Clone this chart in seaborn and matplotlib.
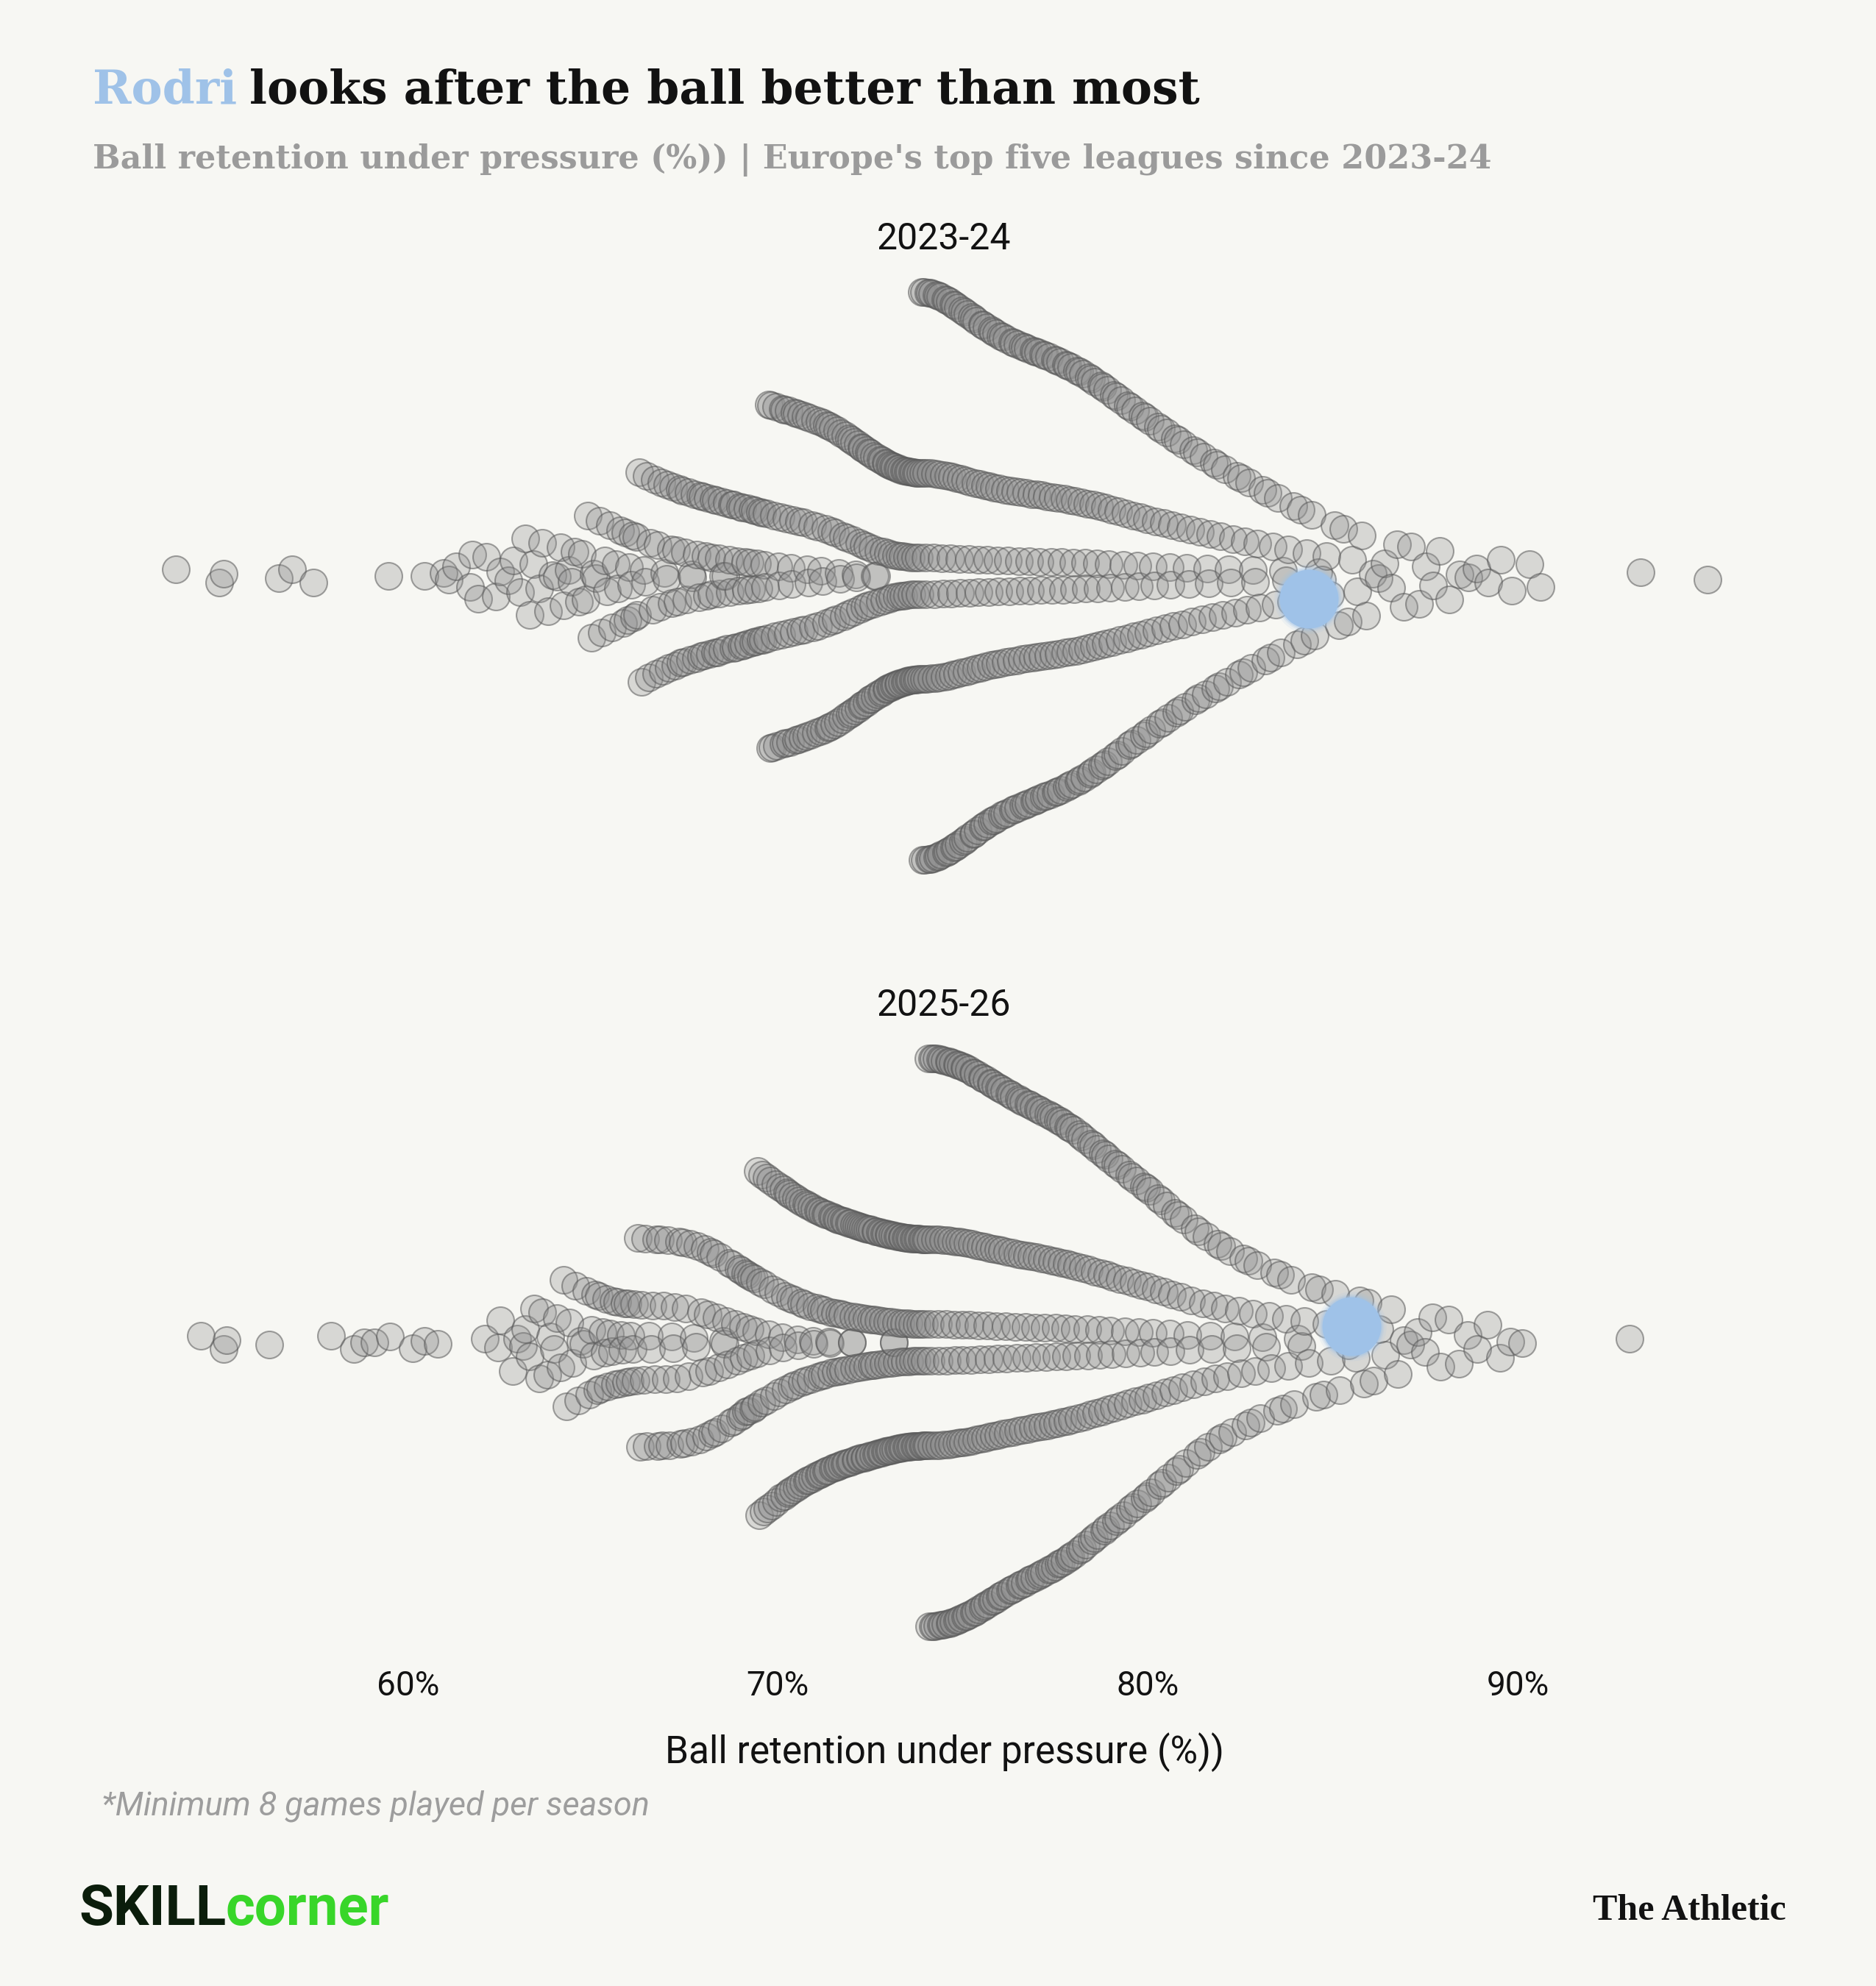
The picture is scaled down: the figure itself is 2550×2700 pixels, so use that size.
import numpy as np
import pandas as pd
import matplotlib.pyplot as plt
from matplotlib.colors import to_rgba
import seaborn as sns

# Ball retention under pressure (%), one value per player
seasons = ["2023-24", "2025-26"]
rodri_retention = [84.35, 85.51]

retention_2324 = [
    53.73, 54.90, 55.02, 56.51, 56.87, 57.44, 59.47, 60.45, 60.97, 61.11, 61.31, 61.68, 61.74, 61.90,
    62.12, 62.38, 62.50, 62.71, 62.85,
    63.04, 63.17, 63.29, 63.40, 63.55, 63.64, 63.79, 63.92,
    64.03, 64.13, 64.20, 64.34, 64.42, 64.51, 64.62, 64.70, 64.81, 64.87, 64.96,
    65.02, 65.09, 65.18, 65.24, 65.33, 65.39, 65.47, 65.53, 65.62, 65.69, 65.75, 65.83, 65.88, 65.93, 65.98,
    66.03, 66.07, 66.12, 66.17, 66.20, 66.26, 66.32, 66.37, 66.41, 66.46, 66.52, 66.56, 66.61, 66.67, 66.72,
    66.76, 66.81, 66.85, 66.90, 66.94, 66.99,
    67.02, 67.06, 67.11, 67.13, 67.18, 67.23, 67.25, 67.30, 67.35, 67.38, 67.41, 67.46, 67.50, 67.53, 67.58,
    67.62, 67.66, 67.69, 67.74, 67.78, 67.81, 67.86, 67.90, 67.93, 67.97,
    68.01, 68.04, 68.09, 68.11, 68.16, 68.20, 68.21, 68.27, 68.30, 68.32, 68.37, 68.41, 68.42, 68.48, 68.51,
    68.53, 68.58, 68.62, 68.63, 68.69, 68.71, 68.76, 68.80, 68.81, 68.87, 68.91, 68.94, 68.98,
    69.02, 69.05, 69.08, 69.12, 69.14, 69.18, 69.21, 69.25, 69.28, 69.31, 69.34, 69.38, 69.40, 69.44, 69.47,
    69.51, 69.53, 69.57, 69.60, 69.63, 69.66, 69.70, 69.72, 69.76, 69.79, 69.82, 69.85, 69.89, 69.91, 69.95,
    69.98,
    70.01, 70.04, 70.07, 70.09, 70.13, 70.15, 70.18, 70.21, 70.24, 70.27, 70.29, 70.33, 70.35, 70.38, 70.41,
    70.44, 70.46, 70.50, 70.52, 70.55, 70.58, 70.61, 70.63, 70.67, 70.69, 70.72, 70.75, 70.78, 70.80, 70.84,
    70.86, 70.89, 70.93, 70.96,
    71.01, 71.03, 71.06, 71.09, 71.12, 71.14, 71.17, 71.20, 71.22, 71.25, 71.28, 71.30, 71.33, 71.36, 71.38,
    71.41, 71.44, 71.47, 71.49, 71.52, 71.55, 71.57, 71.60, 71.63, 71.65, 71.68, 71.71, 71.74, 71.76, 71.79,
    71.82, 71.84, 71.87, 71.90, 71.92, 71.95, 71.98,
    72.01, 72.02, 72.04, 72.06, 72.08, 72.10, 72.13, 72.16, 72.18, 72.20, 72.23, 72.26, 72.27, 72.29, 72.31,
    72.33, 72.35, 72.38, 72.41, 72.43, 72.45, 72.47, 72.48, 72.51, 72.52, 72.56, 72.58, 72.60, 72.62, 72.63,
    72.66, 72.68, 72.70, 72.73, 72.76, 72.77, 72.79, 72.81, 72.83, 72.85, 72.88, 72.91, 72.93, 72.94, 72.95,
    72.98,
    73.01, 73.02, 73.03, 73.05, 73.07, 73.08, 73.10, 73.12, 73.14, 73.16, 73.18, 73.19, 73.21, 73.23, 73.25,
    73.27, 73.28, 73.30, 73.32, 73.34, 73.36, 73.38, 73.40, 73.41, 73.43, 73.45, 73.47, 73.49, 73.50, 73.52,
    73.54, 73.56, 73.58, 73.60, 73.61, 73.63, 73.65, 73.67, 73.69, 73.71, 73.72, 73.74, 73.76, 73.78, 73.80,
    73.82, 73.84, 73.85, 73.87, 73.89, 73.91, 73.93, 73.95, 73.96, 73.98, 73.99,
    74.00, 74.02, 74.04, 74.07, 74.09, 74.11, 74.13, 74.14, 74.16, 74.18, 74.20, 74.22, 74.24, 74.25, 74.27,
    74.29, 74.31, 74.33, 74.35, 74.36, 74.38, 74.40, 74.42, 74.44, 74.47, 74.49, 74.51, 74.53, 74.55, 74.56,
    74.58, 74.60, 74.62, 74.64, 74.65, 74.67, 74.69, 74.71, 74.73, 74.75, 74.76, 74.78, 74.80, 74.82, 74.84,
    74.87, 74.89, 74.91, 74.93, 74.95, 74.96, 74.98,
    75.00, 75.04, 75.06, 75.07, 75.10, 75.12, 75.13, 75.16, 75.18, 75.19, 75.22, 75.24, 75.28, 75.30, 75.31,
    75.34, 75.36, 75.37, 75.40, 75.42, 75.43, 75.46, 75.48, 75.52, 75.54, 75.55, 75.58, 75.60, 75.61, 75.64,
    75.66, 75.67, 75.70, 75.72, 75.76, 75.78, 75.79, 75.82, 75.84, 75.85, 75.88, 75.90, 75.91, 75.94, 75.96,
    75.99,
    76.00, 76.03, 76.07, 76.09, 76.12, 76.14, 76.16, 76.18, 76.20, 76.23, 76.25, 76.27, 76.29, 76.34, 76.36,
    76.38, 76.40, 76.42, 76.45, 76.47, 76.49, 76.51, 76.53, 76.56, 76.60, 76.62, 76.64, 76.67, 76.69, 76.71,
    76.73, 76.75, 76.78, 76.80, 76.82, 76.86, 76.89, 76.91, 76.93, 76.95, 76.97, 76.99,
    77.01, 77.03, 77.06, 77.08, 77.11, 77.13, 77.15, 77.18, 77.20, 77.22, 77.25, 77.27, 77.32, 77.34, 77.37,
    77.39, 77.41, 77.44, 77.46, 77.49, 77.51, 77.53, 77.56, 77.58, 77.60, 77.63, 77.65, 77.68, 77.72, 77.75,
    77.77, 77.79, 77.82, 77.84, 77.87, 77.89, 77.91, 77.94, 77.96, 77.98,
    78.01, 78.03, 78.06, 78.09, 78.12, 78.14, 78.17, 78.20, 78.22, 78.25, 78.28, 78.30, 78.33, 78.36, 78.38,
    78.41, 78.44, 78.47, 78.49, 78.52, 78.55, 78.57, 78.60, 78.63, 78.65, 78.68, 78.71, 78.74, 78.76, 78.79,
    78.82, 78.84, 78.87, 78.90, 78.92, 78.95, 78.98,
    79.02, 79.05, 79.08, 79.12, 79.14, 79.18, 79.21, 79.25, 79.28, 79.31, 79.34, 79.38, 79.40, 79.44, 79.47,
    79.51, 79.53, 79.57, 79.60, 79.63, 79.66, 79.70, 79.72, 79.76, 79.79, 79.82, 79.85, 79.89, 79.91, 79.95,
    79.98,
    80.02, 80.05, 80.09, 80.13, 80.17, 80.21, 80.24, 80.28, 80.32, 80.36, 80.40, 80.43, 80.47, 80.51, 80.55,
    80.59, 80.62, 80.66, 80.70, 80.74, 80.78, 80.81, 80.85, 80.89, 80.93, 80.97,
    81.02, 81.06, 81.11, 81.15, 81.20, 81.24, 81.29, 81.33, 81.38, 81.42, 81.47, 81.51, 81.56, 81.60, 81.65,
    81.69, 81.74, 81.78, 81.83, 81.87, 81.92, 81.96,
    82.03, 82.08, 82.14, 82.19, 82.25, 82.30, 82.36, 82.41, 82.47, 82.52, 82.58, 82.63, 82.69, 82.74, 82.80,
    82.85, 82.91, 82.96,
    83.03, 83.10, 83.17, 83.24, 83.31, 83.38, 83.45, 83.52, 83.59, 83.66, 83.73, 83.80, 83.87, 83.94,
    84.04, 84.14, 84.23, 84.30, 84.44, 84.52, 84.61, 84.72, 84.83, 84.92,
    85.05, 85.17, 85.29, 85.41, 85.53, 85.66, 85.79, 85.90,
    86.08, 86.24, 86.41, 86.58, 86.74, 86.91,
    87.12, 87.33, 87.52, 87.71, 87.90,
    88.15, 88.42, 88.66, 88.88,
    89.20, 89.55, 89.84,
    90.31, 90.62, 93.32, 95.14,
]

retention_2526 = [
    54.41, 55.02, 55.10, 56.25, 57.92, 58.54, 58.82, 59.10, 59.52, 60.13, 60.45, 60.81,
    62.09, 62.43, 62.50, 62.84, 62.95,
    63.12, 63.18, 63.30, 63.42, 63.55, 63.63, 63.77, 63.86, 63.95,
    64.04, 64.12, 64.21, 64.28, 64.36, 64.45, 64.52, 64.60, 64.67, 64.75, 64.83, 64.90, 64.97,
    65.03, 65.07, 65.12, 65.17, 65.20, 65.26, 65.32, 65.37, 65.41, 65.46, 65.52, 65.56, 65.61, 65.67, 65.72,
    65.76, 65.81, 65.85, 65.90, 65.94, 65.99,
    66.02, 66.08, 66.12, 66.16, 66.22, 66.27, 66.31, 66.37, 66.42, 66.46, 66.52, 66.57, 66.61, 66.67, 66.72,
    66.76, 66.82, 66.87, 66.91, 66.97,
    67.03, 67.07, 67.13, 67.18, 67.22, 67.28, 67.33, 67.37, 67.43, 67.48, 67.52, 67.58, 67.63, 67.67, 67.73,
    67.78, 67.82, 67.88, 67.93, 67.97,
    68.02, 68.06, 68.10, 68.15, 68.19, 68.23, 68.27, 68.31, 68.35, 68.40, 68.44, 68.48, 68.52, 68.56, 68.60,
    68.65, 68.69, 68.73, 68.77, 68.81, 68.85, 68.90, 68.94, 68.98,
    69.01, 69.04, 69.07, 69.09, 69.13, 69.15, 69.18, 69.21, 69.24, 69.27, 69.29, 69.33, 69.35, 69.38, 69.41,
    69.44, 69.46, 69.50, 69.52, 69.55, 69.58, 69.61, 69.63, 69.67, 69.69, 69.72, 69.75, 69.78, 69.80, 69.84,
    69.86, 69.89, 69.93, 69.96,
    70.01, 70.03, 70.06, 70.08, 70.11, 70.13, 70.15, 70.18, 70.20, 70.22, 70.25, 70.27, 70.30, 70.32, 70.34,
    70.37, 70.39, 70.41, 70.44, 70.46, 70.49, 70.51, 70.53, 70.56, 70.58, 70.60, 70.63, 70.65, 70.68, 70.70,
    70.72, 70.75, 70.77, 70.79, 70.82, 70.84, 70.87, 70.89, 70.91, 70.94, 70.96, 70.98,
    71.00, 71.02, 71.04, 71.06, 71.08, 71.10, 71.13, 71.15, 71.17, 71.19, 71.21, 71.23, 71.25, 71.27, 71.29,
    71.31, 71.33, 71.35, 71.38, 71.40, 71.42, 71.44, 71.46, 71.48, 71.50, 71.52, 71.54, 71.56, 71.58, 71.60,
    71.63, 71.65, 71.67, 71.69, 71.71, 71.73, 71.75, 71.77, 71.79, 71.81, 71.83, 71.85, 71.88, 71.90, 71.92,
    71.94, 71.96, 71.98,
    72.00, 72.01, 72.04, 72.06, 72.07, 72.10, 72.12, 72.13, 72.16, 72.18, 72.19, 72.22, 72.24, 72.25, 72.28,
    72.30, 72.31, 72.34, 72.36, 72.37, 72.40, 72.42, 72.43, 72.46, 72.48, 72.49, 72.52, 72.54, 72.55, 72.58,
    72.60, 72.61, 72.64, 72.66, 72.67, 72.70, 72.72, 72.73, 72.76, 72.78, 72.79, 72.82, 72.84, 72.85, 72.88,
    72.90, 72.91, 72.94, 72.96, 72.97, 72.99,
    73.00, 73.02, 73.04, 73.05, 73.07, 73.09, 73.11, 73.13, 73.14, 73.16, 73.18, 73.20, 73.22, 73.24, 73.25,
    73.27, 73.29, 73.31, 73.33, 73.35, 73.36, 73.38, 73.40, 73.42, 73.44, 73.45, 73.47, 73.49, 73.51, 73.53,
    73.55, 73.56, 73.58, 73.60, 73.62, 73.64, 73.65, 73.67, 73.69, 73.71, 73.73, 73.75, 73.76, 73.78, 73.80,
    73.82, 73.84, 73.85, 73.87, 73.89, 73.91, 73.93, 73.95, 73.96, 73.98,
    74.00, 74.02, 74.04, 74.05, 74.07, 74.09, 74.11, 74.13, 74.14, 74.16, 74.18, 74.20, 74.22, 74.24, 74.25,
    74.27, 74.29, 74.31, 74.33, 74.35, 74.36, 74.38, 74.40, 74.42, 74.44, 74.45, 74.47, 74.49, 74.51, 74.53,
    74.55, 74.56, 74.58, 74.60, 74.62, 74.64, 74.65, 74.67, 74.69, 74.71, 74.73, 74.75, 74.76, 74.78, 74.80,
    74.82, 74.84, 74.85, 74.87, 74.89, 74.91, 74.93, 74.95, 74.96, 74.98, 74.99,
    75.00, 75.01, 75.04, 75.06, 75.07, 75.10, 75.12, 75.13, 75.16, 75.18, 75.19, 75.22, 75.24, 75.25, 75.28,
    75.30, 75.31, 75.34, 75.36, 75.37, 75.40, 75.42, 75.43, 75.46, 75.48, 75.49, 75.52, 75.54, 75.55, 75.58,
    75.60, 75.61, 75.64, 75.66, 75.67, 75.70, 75.72, 75.73, 75.76, 75.78, 75.79, 75.82, 75.84, 75.85, 75.88,
    75.90, 75.91, 75.94, 75.96, 75.97, 75.99,
    76.00, 76.03, 76.05, 76.07, 76.09, 76.12, 76.14, 76.16, 76.18, 76.20, 76.23, 76.25, 76.27, 76.29, 76.31,
    76.34, 76.36, 76.38, 76.40, 76.42, 76.45, 76.47, 76.49, 76.51, 76.53, 76.56, 76.58, 76.60, 76.62, 76.64,
    76.67, 76.69, 76.71, 76.73, 76.75, 76.78, 76.80, 76.82, 76.84, 76.86, 76.89, 76.91, 76.93, 76.95, 76.97,
    76.99,
    77.01, 77.03, 77.06, 77.08, 77.11, 77.13, 77.15, 77.18, 77.20, 77.22, 77.25, 77.27, 77.30, 77.32, 77.34,
    77.37, 77.39, 77.41, 77.44, 77.46, 77.49, 77.51, 77.53, 77.54, 77.56, 77.58, 77.60, 77.63, 77.65, 77.68,
    77.70, 77.72, 77.75, 77.77, 77.79, 77.82, 77.84, 77.86, 77.87, 77.89, 77.91, 77.94, 77.96, 77.98,
    78.01, 78.03, 78.06, 78.09, 78.12, 78.14, 78.17, 78.20, 78.22, 78.25, 78.28, 78.30, 78.33, 78.36, 78.38,
    78.41, 78.44, 78.47, 78.49, 78.52, 78.55, 78.57, 78.60, 78.63, 78.65, 78.68, 78.71, 78.74, 78.76, 78.79,
    78.82, 78.84, 78.87, 78.90, 78.92, 78.95, 78.98, 78.99,
    79.02, 79.05, 79.08, 79.12, 79.14, 79.18, 79.21, 79.25, 79.28, 79.31, 79.34, 79.38, 79.40, 79.44, 79.47,
    79.51, 79.53, 79.57, 79.60, 79.63, 79.66, 79.70, 79.72, 79.76, 79.79, 79.82, 79.85, 79.89, 79.91, 79.95,
    79.98, 79.99,
    80.02, 80.05, 80.09, 80.13, 80.17, 80.21, 80.24, 80.28, 80.32, 80.36, 80.40, 80.43, 80.47, 80.51, 80.55,
    80.59, 80.62, 80.66, 80.70, 80.74, 80.78, 80.81, 80.85, 80.89, 80.93, 80.97,
    81.03, 81.08, 81.13, 81.18, 81.23, 81.28, 81.33, 81.38, 81.43, 81.48, 81.53, 81.58, 81.63, 81.68, 81.73,
    81.78, 81.83, 81.88, 81.93, 81.98,
    82.03, 82.09, 82.15, 82.22, 82.28, 82.34, 82.40, 82.47, 82.53, 82.59, 82.65, 82.72, 82.78, 82.84, 82.90,
    82.97,
    83.04, 83.11, 83.19, 83.27, 83.34, 83.42, 83.50, 83.57, 83.65, 83.73, 83.80, 83.88, 83.96,
    84.05, 84.15, 84.24, 84.35, 84.44, 84.55, 84.64, 84.75, 84.84, 84.94,
    85.06, 85.18, 85.30, 85.42, 85.63, 85.72, 85.84, 85.95,
    86.10, 86.26, 86.43, 86.59, 86.76, 86.92,
    87.09, 87.30, 87.50, 87.70, 87.91,
    88.14, 88.40, 88.65, 88.90,
    89.18, 89.52, 89.81,
    90.12, 93.02,
]

x_ticks = [60, 70, 80, 90]
x_tick_labels = ["60%", "70%", "80%", "90%"]

BG = "#f7f7f3"
RODRI_BLUE = "#9fc2e8"
INK = "#121212"
W, H, DPI = 2550, 2700, 100
X_MIN, X_MAX = 52, 97
DOT_PT = 26.6
EDGE_PT = 1.5

# swarm layout: points are dealt, pair by pair in order of value, into lanes
# mirrored above and below the centre line. A new lane opens at the outer edge
# each time the local spread has grown by a fixed ratio, older lanes sink
# towards the centre, and all lanes close in as the spread shrinks again.
# Outer lanes receive more of the points than the ones near the centre.
LANES = 3
LANE_GROWTH = 0.5    # log-growth of the spread between two new lanes
LANE_POWER = 2.5     # how quickly a lane sinks towards the centre
LANE_WEIGHT = 1.0    # share of points given to outer lanes
BANDWIDTH = 0.8
SPREAD = 0.46
FLOOR = 0.018


def swarm_offsets(values):
    v = np.asarray(values, dtype=float)
    order = np.argsort(v, kind="stable")
    dens = np.exp(-0.5 * ((v[:, None] - v[None, :]) / BANDWIDTH) ** 2).sum(axis=1)
    spread = np.maximum(SPREAD * dens / dens.max(), FLOOR)
    grown = np.maximum.accumulate(spread[order])
    t = np.log(grown / FLOOR) / (LANES * LANE_GROWTH)
    t_peak = np.log(SPREAD / FLOOR) / (LANES * LANE_GROWTH)
    offsets = np.zeros(len(v))
    credit = np.zeros(LANES)
    for j in range(0, len(v), 2):
        lane_u = 1 - (t[j] - t_peak - np.arange(LANES) / LANES) % 1.0
        share = lane_u ** LANE_WEIGHT
        credit += share / share.sum()
        k = np.argmax(credit)
        credit[k] -= 1
        for r, sign in [(j, 1.0), (j + 1, -1.0)]:
            if r < len(v):
                i = order[r]
                offsets[i] = sign * spread[i] * lane_u[k] ** LANE_POWER
    return offsets


sns.set_style("white", {"axes.facecolor": "none", "figure.facecolor": BG})
plt.rcParams["font.family"] = ["Roboto", "DejaVu Sans"]

frames = []
for season, values, rodri in zip(seasons, [retention_2324, retention_2526], rodri_retention):
    vals = values + [rodri]
    frames.append(pd.DataFrame({
        "season": season,
        "retention": vals,
        "offset": swarm_offsets(vals),
        "rodri": [False] * len(values) + [True],
    }))
df = pd.concat(frames, ignore_index=True)

fig = plt.figure(figsize=(W / DPI, H / DPI), dpi=DPI)


def px_box(left, top, width, height):
    return [left / W, 1 - (top + height) / H, width / W, height / H]


axes = []
for season, centre in zip(seasons, [783, 1825]):
    ax = fig.add_axes(px_box(152, centre - 420, 2263, 840))
    sub = df[df.season == season]
    others = sub[~sub.rodri]
    sns.scatterplot(data=others, x="retention", y="offset", s=DOT_PT ** 2,
                    linewidth=EDGE_PT, legend=False, ax=ax, clip_on=False)
    pts = ax.collections[-1]
    pts.set_facecolor(to_rgba("#8f8f8f", 0.3))
    pts.set_edgecolor(to_rgba("#595959", 0.55))

    me = sub[sub.rodri].iloc[0]
    for d, a in [(68, 0.12), (63.5, 0.2), (60.5, 0.35), (57.6, 1)]:
        ax.scatter(me.retention, me.offset, s=d ** 2, color=RODRI_BLUE, alpha=a,
                   linewidths=0, zorder=5, clip_on=False)

    ax.set_xlim(X_MIN, X_MAX)
    ax.set_ylim(-0.5, 0.5)
    ax.set_xlabel("")
    ax.set_ylabel("")
    ax.set_yticks([])
    ax.set_title(season, fontsize=36, pad=17, color=INK)
    sns.despine(ax=ax, left=True, bottom=True)
    axes.append(ax)

axes[0].set_xticks([])
axes[1].set_xticks(x_ticks, x_tick_labels)
axes[1].tick_params(axis="x", length=0, pad=18, labelsize=33, labelcolor=INK)
axes[1].set_xlabel("Ball retention under pressure (%))", fontsize=37, labelpad=30, color=INK)

renderer = fig.canvas.get_renderer()


def fitted_size(text, width_px, **kw):
    t = fig.text(0, 0, text, fontsize=40, **kw)
    w = t.get_window_extent(renderer).width
    t.remove()
    return 40 * width_px / w


serif_bold = dict(family="DejaVu Serif", weight="bold")

title = "Rodri looks after the ball better than most"
fs = fitted_size(title, 1505, **serif_bold)
fig.text(126 / W, 1 - 141 / H, "Rodri", color=RODRI_BLUE, fontsize=fs, va="baseline", **serif_bold)
fig.text((126 + 1505) / W, 1 - 141 / H, "looks after the ball better than most", color=INK,
         fontsize=fs, va="baseline", ha="right", **serif_bold)

subtitle = "Ball retention under pressure (%)) | Europe's top five leagues since 2023-24"
fs = fitted_size(subtitle, 1897, **serif_bold)
fig.text(126 / W, 1 - 229 / H, subtitle, color="#9b9b9b", fontsize=fs, va="baseline", **serif_bold)

note = "*Minimum 8 games played per season"
fs = fitted_size(note, 744, style="italic")
fig.text(138 / W, 1 - 2455 / H, note, color="#9d9d9d", fontsize=fs, style="italic", va="center")

logo_kw = dict(family=["Liberation Sans Narrow", "Roboto"], weight="bold")
fs = fitted_size("SKILLcorner", 422, **logo_kw)
fig.text(107 / W, 1 - 2597 / H, "SKILL", color="#0b1d0b", fontsize=fs, va="center", **logo_kw)
fig.text(529 / W, 1 - 2597 / H, "corner", color="#38d629", fontsize=fs, va="center", ha="right", **logo_kw)

athletic_kw = dict(family=["Liberation Serif", "DejaVu Serif"], weight="bold")
fs = fitted_size("The Athletic", 262, **athletic_kw)
fig.text(2428 / W, 1 - 2597 / H, "The Athletic", color=INK, fontsize=fs, va="center", ha="right", **athletic_kw)

fig.savefig("out.png", dpi=DPI, facecolor=BG)
